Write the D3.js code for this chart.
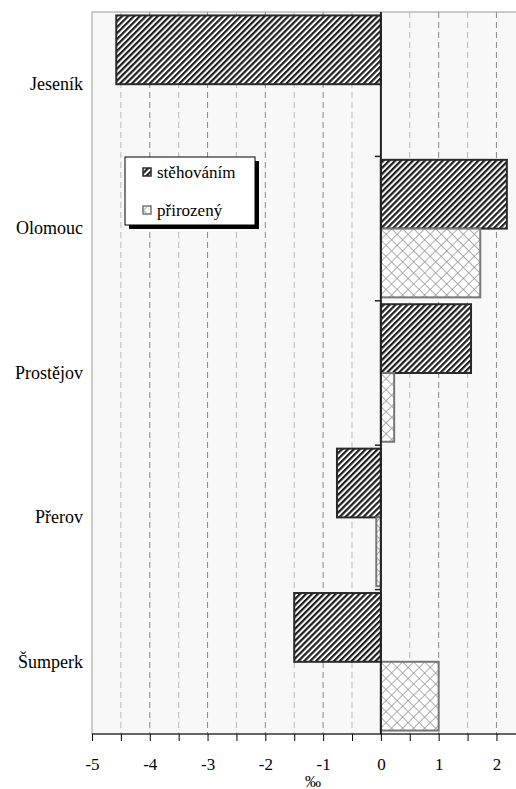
<!DOCTYPE html>
<html>
<head>
<meta charset="utf-8">
<script src="https://cdn.jsdelivr.net/npm/d3@7"></script>
<style>
  html, body { margin: 0; padding: 0; background: #fff; }
  svg { display: block; }
</style>
</head>
<body>
<div id="chart"></div>
<script>
// Data
const districts = ["Jeseník", "Olomouc", "Prostějov", "Přerov", "Šumperk"];
const seriesNames = ["stěhováním", "přirozený"];
const migration = [-4.58, 2.18, 1.56, -0.76, -1.5];
const natural = [0, 1.72, 0.23, -0.08, 1.0];
const xTicks = [-5, -4, -3, -2, -1, 0, 1, 2];
const axisTitle = "‰";

const serif = "Liberation Serif";

/************************************
 * Build bar chart
 ************************************/
const drawChart = (id) => {
  const w = 516;
  const h = 789;
  const left = 92, right = 534, top = 12, bottom = 734;

  const rows = districts.map((d, i) => ({
    name: d,
    values: [
      { key: seriesNames[0], value: migration[i] },
      { key: seriesNames[1], value: natural[i] }
    ]
  }));

  const xScale = d3.scaleLinear()
    .domain([-5, 2.65])
    .range([left, right]);

  const yScale = d3.scaleBand()
    .domain(districts)
    .range([top, bottom]);

  const inner = d3.scaleBand()
    .domain(seriesNames)
    .range([0, yScale.bandwidth()])
    .paddingOuter(0.05);

  const svg = d3.select(id)
    .append("svg")
    .attr("width", w)
    .attr("height", h)
    .attr("font-family", serif);

  // Patterns
  const defs = svg.append("defs");
  const stripes = defs.append("pattern")
    .attr("id", "stripes")
    .attr("patternUnits", "userSpaceOnUse")
    .attr("width", 4.2)
    .attr("height", 4.2)
    .attr("patternTransform", "rotate(45)");
  stripes.append("rect").attr("width", 4.2).attr("height", 4.2).attr("fill", "#fff");
  stripes.append("rect").attr("width", 2.2).attr("height", 4.2).attr("fill", "#1e1e1e");

  const cross = defs.append("pattern")
    .attr("id", "cross")
    .attr("patternUnits", "userSpaceOnUse")
    .attr("width", 7.8)
    .attr("height", 7.8)
    .attr("patternTransform", "rotate(45)");
  cross.append("rect").attr("width", 7.8).attr("height", 7.8).attr("fill", "#fff");
  cross.append("line").attr("x1", 0).attr("y1", 0).attr("x2", 0).attr("y2", 7.8)
    .attr("stroke", "#9a9a9a").attr("stroke-width", 1.6);
  cross.append("line").attr("x1", 0).attr("y1", 0).attr("x2", 7.8).attr("y2", 0)
    .attr("stroke", "#9a9a9a").attr("stroke-width", 1.6);

  const fills = { "stěhováním": "url(#stripes)", "přirozený": "url(#cross)" };
  const strokes = { "stěhováním": "#2a2a2a", "přirozený": "#777" };

  // Plot area
  svg.append("rect")
    .attr("x", left)
    .attr("y", top)
    .attr("width", right - left)
    .attr("height", bottom - top)
    .attr("fill", "#f8f8f8")
    .attr("stroke", "#999")
    .attr("stroke-width", 1);

  // Gridlines
  const gridVals = d3.range(-4.5, 2.65, 0.5);
  svg.append("g")
    .selectAll("line")
    .data(gridVals)
    .enter()
    .append("line")
    .attr("x1", d => xScale(d))
    .attr("x2", d => xScale(d))
    .attr("y1", top)
    .attr("y2", bottom)
    .attr("stroke", d => Number.isInteger(d) ? "#888" : "#bbb")
    .attr("stroke-width", 1)
    .attr("stroke-dasharray", "6,4");

  // Bars
  const groups = svg.append("g")
    .selectAll("g")
    .data(rows)
    .enter()
    .append("g")
    .attr("transform", d => "translate(0," + yScale(d.name) + ")");

  groups.selectAll("rect")
    .data(d => d.values)
    .enter()
    .append("rect")
    .attr("x", d => xScale(Math.min(0, d.value)))
    .attr("y", d => inner(d.key))
    .attr("width", d => Math.abs(xScale(d.value) - xScale(0)))
    .attr("height", inner.bandwidth())
    .attr("fill", d => fills[d.key])
    .attr("stroke", d => strokes[d.key])
    .attr("stroke-width", 2);

  // Category axis at zero
  svg.append("line")
    .attr("x1", xScale(0))
    .attr("x2", xScale(0))
    .attr("y1", top)
    .attr("y2", bottom)
    .attr("stroke", "#222")
    .attr("stroke-width", 2);

  svg.append("g")
    .selectAll("line")
    .data(districts.slice(1))
    .enter()
    .append("line")
    .attr("x1", xScale(0) - 6)
    .attr("x2", xScale(0))
    .attr("y1", d => yScale(d))
    .attr("y2", d => yScale(d))
    .attr("stroke", "#222")
    .attr("stroke-width", 1.5);

  // Category labels
  svg.append("g")
    .selectAll("text")
    .data(districts)
    .enter()
    .append("text")
    .attr("x", left - 9)
    .attr("y", d => yScale(d) + yScale.bandwidth() / 2)
    .attr("dy", "0.32em")
    .attr("text-anchor", "end")
    .attr("font-family", serif)
    .attr("font-size", 18)
    .text(d => d);

  // Value axis
  const xAxis = d3.axisBottom(xScale)
    .tickValues(d3.range(-5, 2.5, 0.5))
    .tickSize(7)
    .tickPadding(17)
    .tickFormat(d => xTicks.includes(d) ? d3.format("")(d).replace("−", "-") : "");

  const gx = svg.append("g")
    .attr("transform", "translate(0," + bottom + ")")
    .call(xAxis)
    .attr("font-family", serif)
    .attr("font-size", 17);
  gx.select(".domain").attr("stroke", "#000").attr("d", "M" + left + ",0H" + right);
  gx.selectAll(".tick line").attr("stroke", "#000");
  gx.selectAll(".tick text").attr("fill", "#000");

  svg.append("text")
    .attr("x", (left + right) / 2)
    .attr("y", 787)
    .attr("text-anchor", "middle")
    .attr("font-family", serif)
    .attr("font-size", 16)
    .text(axisTitle);

  // Legend
  const lx = 125, ly = 157, lw = 130, lh = 68;
  svg.append("rect")
    .attr("x", lx + 4).attr("y", ly + 4)
    .attr("width", lw).attr("height", lh)
    .attr("fill", "#000");
  svg.append("rect")
    .attr("x", lx).attr("y", ly)
    .attr("width", lw).attr("height", lh)
    .attr("fill", "#fff")
    .attr("stroke", "#000")
    .attr("stroke-width", 1);

  seriesNames.forEach((s, i) => {
    const yy = ly + 11 + i * 38;
    svg.append("rect")
      .attr("x", lx + 18)
      .attr("y", yy)
      .attr("width", 8)
      .attr("height", 8)
      .attr("fill", fills[s])
      .attr("stroke", strokes[s])
      .attr("stroke-width", 1.5);
    svg.append("text")
      .attr("x", lx + 32)
      .attr("y", yy + 10)
      .attr("font-family", serif)
      .attr("font-size", 17)
      .text(s);
  });
};

document.addEventListener('DOMContentLoaded', () => {
  drawChart("#chart");
});
</script>
</body>
</html>
